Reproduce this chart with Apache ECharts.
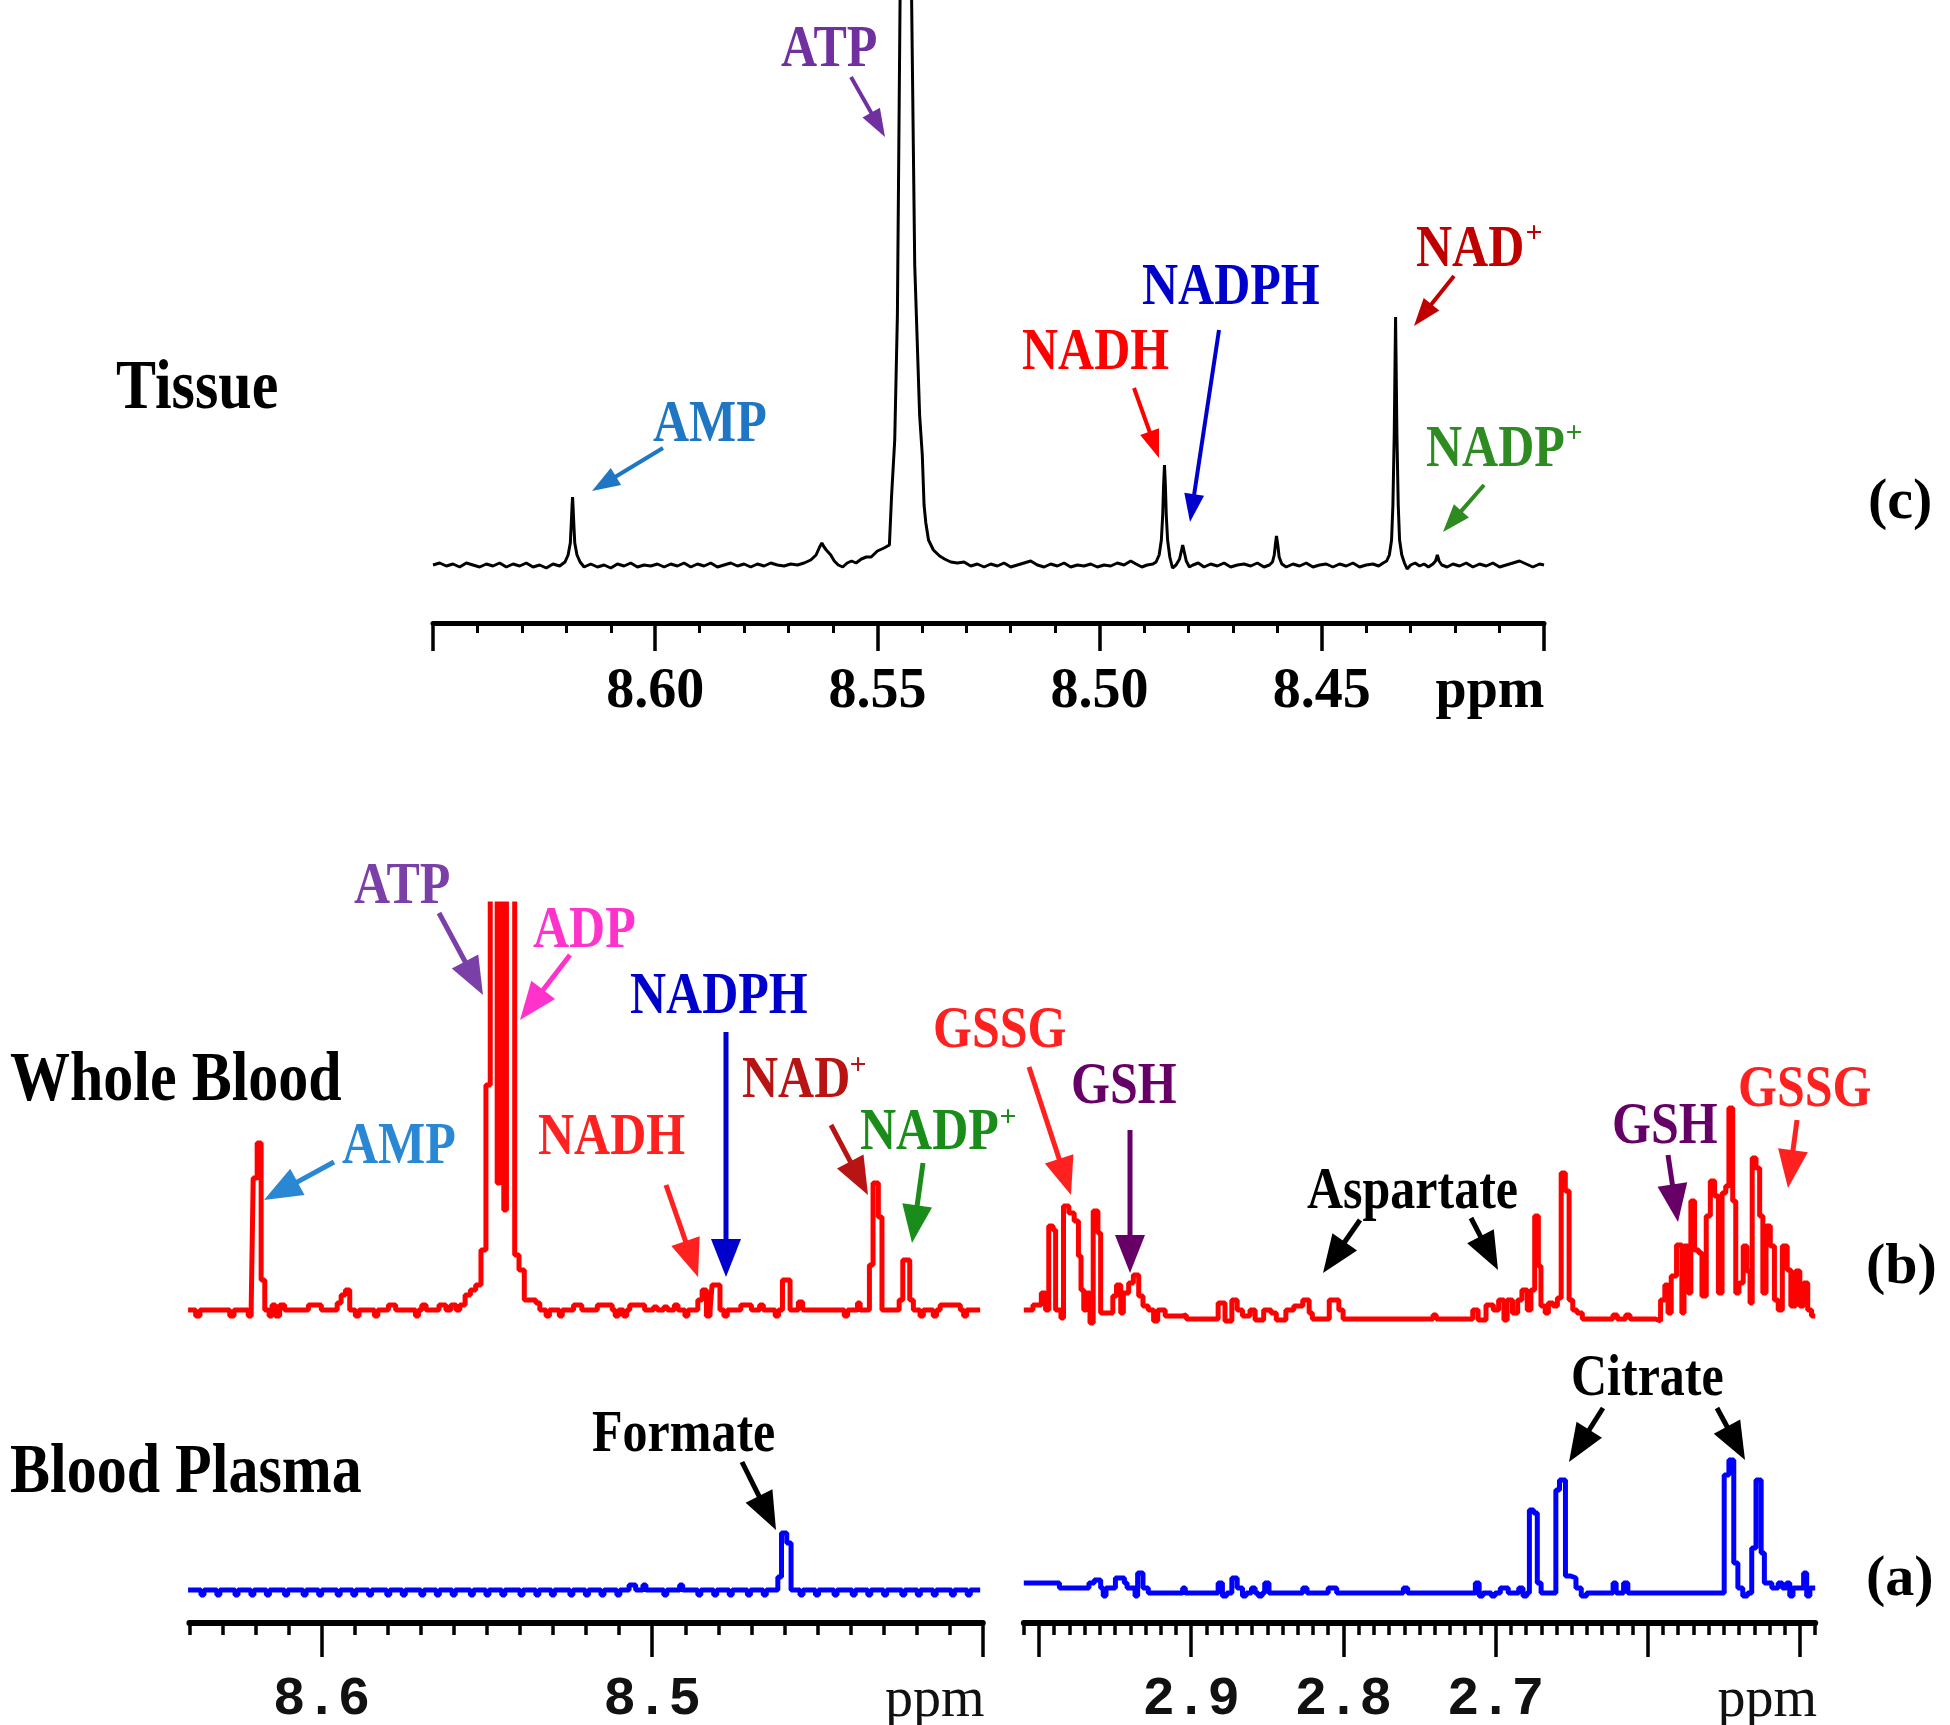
<!DOCTYPE html>
<html><head><meta charset="utf-8">
<script src="https://cdn.jsdelivr.net/npm/echarts@6/dist/echarts.min.js"></script>
<style>html,body{margin:0;padding:0;background:#fff}#c{width:1950px;height:1725px}</style>
</head><body><div id="c"></div>
<script>
// ---------- DATA (ppm, intensity) ----------
const tissueSpectrum = [
[8.6500,0],[8.6485,2],[8.6470,-1],[8.6455,1],[8.6440,-2],[8.6425,2],[8.6410,0],[8.6395,-2],[8.6380,1],[8.6365,-1],[8.6350,2],[8.6335,-2],[8.6320,1],[8.6305,-1],[8.6290,2],[8.6275,-2],[8.6260,0],[8.6245,-3],[8.6230,1],[8.6215,-1],
[8.6203,3],[8.6196,10],[8.6191,22],[8.6189,40],[8.6187,60],[8.6186,68],[8.6185,60],[8.6183,40],[8.6181,22],[8.6176,10],[8.6169,3],[8.6160,-2],
[8.6145,1],[8.6130,-2],[8.6115,0],[8.6100,-3],[8.6085,1],[8.6070,-1],[8.6055,2],[8.6040,-2],[8.6025,0],[8.6010,-1],[8.5995,1],[8.5980,-2],[8.5965,1],[8.5950,-1],[8.5935,2],[8.5920,-2],[8.5905,1],[8.5890,-1],[8.5875,2],[8.5860,-2],[8.5845,0],[8.5830,2],[8.5815,-1],[8.5800,1],[8.5785,-2],[8.5770,1],[8.5755,-1],[8.5740,2],[8.5725,0],[8.5710,-1],[8.5695,1],[8.5680,0],
[8.5665,2],[8.5650,5],[8.5638,10],[8.5630,18],[8.5625,22],[8.5620,18],[8.5615,15],[8.5611,16],[8.5605,10],[8.5597,4],[8.5588,0],[8.5578,-2],[8.5568,2],[8.5558,4],[8.5548,2],[8.5536,6],[8.5525,8],
[8.5514,8],[8.5500,14],[8.5485,17],[8.5473,20],[8.5468,70],[8.5461,125],[8.5455,250],[8.5449,565],[8.5445,850],[8.5441,1340],[8.5436,1800],[8.5431,1340],[8.5427,850],[8.5423,565],[8.5416,300],[8.5405,150],[8.5399,110],[8.5395,60],[8.5391,42],[8.5385,25],[8.5374,15],[8.5360,9],[8.5349,6],[8.5335,3],
[8.5320,2],[8.5305,3],[8.5290,-1],[8.5275,1],[8.5260,-2],[8.5245,1],[8.5230,-1],[8.5215,2],[8.5200,-2],[8.5185,0],[8.5170,2],[8.5155,4],[8.5140,0],[8.5125,-2],[8.5110,1],[8.5095,-1],[8.5080,2],[8.5065,-2],[8.5050,0],[8.5035,-1],[8.5020,1],[8.5005,-2],[8.4990,0],[8.4975,-1],[8.4960,2],[8.4945,0],[8.4930,4],[8.4918,1],[8.4905,-2],[8.4893,0],[8.4880,1],
[8.4873,3],[8.4866,10],[8.4861,25],[8.4858,50],[8.4856,80],[8.4854,100],[8.4852,80],[8.4850,50],[8.4847,25],[8.4842,8],[8.4836,-3],[8.4828,0],
[8.4820,6],[8.4816,14],[8.4813,20],[8.4810,14],[8.4805,4],[8.4798,-2],[8.4790,0],[8.4778,2],[8.4765,-2],[8.4750,1],[8.4735,-1],[8.4720,2],[8.4705,-2],[8.4690,0],[8.4675,1],[8.4660,-1],[8.4645,2],[8.4630,-2],[8.4618,0],
[8.4611,3],[8.4607,10],[8.4604,22],[8.4602,29],[8.4599,20],[8.4596,8],[8.4590,1],[8.4580,-2],[8.4565,1],[8.4550,-1],[8.4535,2],[8.4520,-2],[8.4505,0],[8.4490,1],[8.4475,-2],[8.4460,1],[8.4445,-1],[8.4430,2],[8.4415,-2],[8.4400,0],[8.4385,1],[8.4372,-1],[8.4362,2],
[8.4354,4],[8.4348,10],[8.4343,25],[8.4340,60],[8.4337,130],[8.4335,210],[8.4334,248],[8.4333,210],[8.4331,130],[8.4328,60],[8.4325,25],[8.4320,10],[8.4314,2],[8.4308,-4],[8.4300,0],[8.4290,2],[8.4280,-1],[8.4270,1],[8.4260,-2],[8.4250,1],
[8.4244,4],[8.4240,10],[8.4236,4],[8.4230,0],[8.4218,-2],[8.4205,1],[8.4190,-1],[8.4175,2],[8.4160,-2],[8.4145,1],[8.4130,-1],[8.4115,2],[8.4100,-2],[8.4085,0],[8.4070,2],[8.4055,4],[8.4040,1],[8.4025,-2],[8.4010,1],[8.4000,0]
];

const bloodAromatic = [
[8.6404,0],[8.6381,-6],[8.6368,0],[8.6278,-6],[8.6265,0],[8.6222,-6],[8.6213,5],[8.6207,132],[8.6195,167],[8.6183,30],[8.6172,0],[8.6159,-6],[8.6150,5],[8.6140,-6],[8.6127,5],[8.6112,0],[8.6040,5],[8.6001,0],[8.5953,7],[8.5941,15],[8.5928,20],[8.5915,0],[8.5898,-6],[8.5887,0],[8.5840,-6],[8.5830,0],[8.5798,5],[8.5776,0],[8.5716,-6],[8.5707,0],[8.5697,5],[8.5684,0],[8.5645,5],[8.5624,0],[8.5609,5],[8.5593,0],[8.5582,5],[8.5566,15],[8.5550,20],[8.5534,25],[8.5518,60],[8.5503,225],[8.5490,600],[8.5469,127],[8.5461,600],[8.5449,100],[8.5441,600],[8.5416,55],[8.5403,40],[8.5387,10],[8.5352,7],[8.5340,0],[8.5321,-6],[8.5311,0],[8.5281,-6],[8.5272,0],[8.5238,5],[8.5213,0],[8.5166,5],[8.5121,0],[8.5112,-6],[8.5102,0],[8.5087,-6],[8.5077,0],[8.5068,5],[8.5023,0],[8.4996,3],[8.4985,0],[8.4965,3],[8.4954,0],[8.4933,5],[8.4922,0],[8.4901,-6],[8.4892,0],[8.4862,10],[8.4849,20],[8.4836,-6],[8.4825,0],[8.4819,25],[8.4795,0],[8.4783,-6],[8.4773,0],[8.4732,5],[8.4700,0],[8.4675,5],[8.4664,0],[8.4628,-6],[8.4618,0],[8.4606,30],[8.4583,0],[8.4558,8],[8.4545,0],[8.4419,-6],[8.4409,0],[8.4379,7],[8.4371,0],[8.4343,45],[8.4332,127],[8.4316,93],[8.4305,0],[8.4253,10],[8.4242,50],[8.4221,10],[8.4210,0],[8.4190,-6],[8.4180,0],[8.4150,-6],[8.4140,0],[8.4129,5],[8.4068,0],[8.4058,-6],[8.4049,0],[8.4008,0]
];

const bloodAliphatic = [
[3.0100,9],[3.0040,14],[2.9985,26],[2.9957,9],[2.9936,93],[2.9908,89],[2.9891,9],[2.9856,1],[2.9839,113],[2.9804,106],[2.9769,98],[2.9741,63],[2.9724,29],[2.9706,9],[2.9689,26],[2.9665,-4],[2.9644,108],[2.9613,86],[2.9595,6],[2.9515,23],[2.9491,34],[2.9463,6],[2.9446,26],[2.9411,36],[2.9380,44],[2.9345,23],[2.9317,13],[2.9282,9],[2.9247,-2],[2.9220,9],[2.9171,3],[2.9056,4],[2.9032,0],[2.8823,16],[2.8778,-2],[2.8733,19],[2.8698,9],[2.8663,3],[2.8614,9],[2.8580,-1],[2.8524,9],[2.8475,6],[2.8441,-1],[2.8378,9],[2.8326,13],[2.8267,19],[2.8225,6],[2.8204,0],[2.8093,19],[2.8030,9],[2.8002,0],[2.7411,4],[2.7390,0],[2.7150,9],[2.7115,-1],[2.7063,14],[2.7015,9],[2.6980,19],[2.6945,-1],[2.6924,19],[2.6889,6],[2.6855,19],[2.6827,29],[2.6792,9],[2.6768,29],[2.6743,103],[2.6719,53],[2.6702,13],[2.6674,6],[2.6653,16],[2.6622,13],[2.6594,21],[2.6569,146],[2.6542,128],[2.6517,19],[2.6493,9],[2.6465,6],[2.6430,0],[2.6229,4],[2.6201,0],[2.6145,4],[2.6117,0],[2.5950,-2],[2.5916,19],[2.5888,34],[2.5867,6],[2.5846,43],[2.5811,74],[2.5776,6],[2.5762,73],[2.5735,26],[2.5717,118],[2.5693,69],[2.5665,66],[2.5644,23],[2.5616,103],[2.5589,138],[2.5561,123],[2.5536,26],[2.5512,126],[2.5488,133],[2.5467,211],[2.5442,118],[2.5422,26],[2.5401,36],[2.5373,73],[2.5349,48],[2.5328,16],[2.5314,161],[2.5289,151],[2.5265,103],[2.5244,26],[2.5223,93],[2.5195,73],[2.5168,19],[2.5143,9],[2.5116,73],[2.5084,49],[2.5060,13],[2.5029,48],[2.5001,13],[2.4976,36],[2.4949,9],[2.4924,3],[2.4900,3]
];

const plasmaAromatic = [
[8.6404,0],[8.6365,-5],[8.6356,0],[8.6317,-5],[8.6308,0],[8.6262,-5],[8.6253,0],[8.6214,-5],[8.6205,0],[8.6167,-5],[8.6158,0],[8.6112,-5],[8.6103,0],[8.6056,-5],[8.6047,0],[8.6009,-5],[8.6000,0],[8.5953,-5],[8.5944,0],[8.5906,-5],[8.5897,0],[8.5858,-5],[8.5849,0],[8.5803,-5],[8.5794,0],[8.5756,-5],[8.5747,0],[8.5700,-5],[8.5691,0],[8.5653,-5],[8.5644,0],[8.5605,-5],[8.5596,0],[8.5550,-5],[8.5541,0],[8.5503,-5],[8.5494,0],[8.5455,-5],[8.5446,0],[8.5400,-5],[8.5391,0],[8.5352,-5],[8.5343,0],[8.5305,-5],[8.5296,0],[8.5249,-5],[8.5240,0],[8.5202,-5],[8.5193,0],[8.5155,-5],[8.5146,0],[8.5107,-5],[8.5098,0],[8.5070,5],[8.5050,0],[8.5028,5],[8.5019,0],[8.4965,-5],[8.4956,0],[8.4917,5],[8.4908,0],[8.4862,-5],[8.4853,0],[8.4814,-5],[8.4805,0],[8.4767,-5],[8.4758,0],[8.4712,-5],[8.4703,0],[8.4664,-5],[8.4655,0],
[8.4620,13],[8.4609,57],[8.4593,47],[8.4580,0],
[8.4553,-5],[8.4544,0],[8.4506,-5],[8.4497,0],[8.4450,-5],[8.4441,0],[8.4395,-5],[8.4386,0],[8.4348,-5],[8.4339,0],[8.4300,-5],[8.4291,0],[8.4245,-5],[8.4236,0],[8.4198,-5],[8.4189,0],[8.4150,-5],[8.4141,0],[8.4095,-5],[8.4086,0],[8.4047,-5],[8.4038,0],[8.4008,0]
];

const plasmaAliphatic = [
[3.0100,10],[2.9866,5],[2.9672,10],[2.9637,13],[2.9595,5],[2.9578,-3],[2.9560,5],[2.9498,15],[2.9439,10],[2.9421,5],[2.9369,-3],[2.9352,20],[2.9317,5],[2.9282,0],[2.9056,5],[2.9039,0],[2.8823,10],[2.8795,-3],[2.8767,0],[2.8733,15],[2.8698,5],[2.8663,-3],[2.8639,0],[2.8604,5],[2.8580,0],[2.8559,-3],[2.8534,0],[2.8517,10],[2.8489,0],[2.8267,5],[2.8239,0],[2.8100,5],[2.8044,0],[2.7606,5],[2.7578,0],[2.7133,10],[2.7108,-3],[2.7084,0],[2.7028,-3],[2.7004,0],[2.6969,5],[2.6917,0],[2.6848,5],[2.6820,-3],[2.6795,0],[2.6778,83],[2.6750,80],[2.6726,10],[2.6701,0],[2.6604,103],[2.6580,113],[2.6541,17],[2.6507,15],[2.6472,5],[2.6437,-3],[2.6402,0],[2.6228,10],[2.6208,0],[2.6159,10],[2.6131,0],[2.5498,118],[2.5467,133],[2.5435,30],[2.5408,5],[2.5376,-3],[2.5345,0],[2.5317,45],[2.5289,113],[2.5255,40],[2.5234,10],[2.5185,5],[2.5143,10],[2.5116,5],[2.5088,10],[2.5067,-3],[2.5046,5],[2.4976,20],[2.4956,-3],[2.4935,5],[2.4900,5]
];

// tick values / labels
const tissueTicks = [8.65, 8.60, 8.55, 8.50, 8.45, 8.40];
const tissueTickLabels = ['', '8.60', '8.55', '8.50', '8.45', 'ppm'];
const lowLeftMajor = [8.6, 8.5, 8.4];
const lowLeftLabels = ['8.6', '8.5', 'ppm'];
const lowRightMajor = [3.0, 2.9, 2.8, 2.7, 2.6, 2.5];
const lowRightLabelValues = [2.9, 2.8, 2.7, 2.49];
const lowRightLabels = ['2.9', '2.8', '2.7', 'ppm'];

// annotations (text labels + arrows, pixel positions)
const annotations = [
  {t:'Tissue', x:116, y:390, c:'#000', s:60, sy:1.15},
  {t:'(c)', x:1868, y:503, c:'#000', s:58, sy:1},
  {t:'ATP', x:781, y:50, c:'#7030A0', arrows:[[851,77,885,137]], top:true},
  {t:'AMP', x:653, y:425, c:'#1F77C4', arrows:[[663,448,592,491]], top:true},
  {t:'NADH', x:1022, y:353, c:'#FF0000', arrows:[[1134,388,1159,458]], top:true},
  {t:'NADPH', x:1142, y:288, c:'#0000CC', arrows:[[1219,330,1190,522]], top:true},
  {t:'NAD', x:1416, y:250, c:'#C00000', sup:[1534,234], arrows:[[1454,276,1414,326]], top:true},
  {t:'NADP', x:1426, y:450, c:'#2E8B22', sup:[1574,434], arrows:[[1484,485,1443,532]], top:true},

  {t:'Whole Blood', x:10, y:1082, c:'#000', s:60, sy:1.15},
  {t:'Blood Plasma', x:10, y:1474, c:'#000', s:60, sy:1.15},
  {t:'(b)', x:1866, y:1268, c:'#000', s:58, sy:1},
  {t:'(a)', x:1866, y:1580, c:'#000', s:58, sy:1},
  {t:'ATP', x:354, y:887, c:'#7B3FA8', arrows:[[439,913,483,995]]},
  {t:'ADP', x:533, y:931, c:'#FF33CC', arrows:[[570,955,520,1020]]},
  {t:'AMP', x:342, y:1147, c:'#2A87D4', arrows:[[334,1162,264,1200]]},
  {t:'NADPH', x:630, y:997, c:'#0000CC', arrows:[[726,1032,726,1277]]},
  {t:'NADH', x:538, y:1138, c:'#FF2020', arrows:[[666,1185,698,1277]]},
  {t:'NAD', x:742, y:1081, c:'#B81414', sup:[858,1066], arrows:[[831,1125,868,1195]]},
  {t:'NADP', x:860, y:1133, c:'#1A8C1A', sup:[1008,1118], arrows:[[923,1163,912,1243]]},
  {t:'GSSG', x:933, y:1031, c:'#FF2020', arrows:[[1029,1067,1071,1195]]},
  {t:'GSH', x:1071, y:1087, c:'#660066', arrows:[[1130,1130,1130,1273]]},
  {t:'Aspartate', x:1307, y:1192, c:'#000', arrows:[[1360,1220,1323,1273],[1471,1218,1498,1270]]},
  {t:'GSH', x:1612, y:1127, c:'#660066', arrows:[[1668,1155,1678,1222]]},
  {t:'GSSG', x:1738, y:1090, c:'#FF2020', arrows:[[1797,1120,1788,1188]]},
  {t:'Formate', x:592, y:1435, c:'#000', arrows:[[742,1462,776,1530]]},
  {t:'Citrate', x:1571, y:1379, c:'#000', arrows:[[1603,1408,1569,1462],[1717,1408,1745,1460]]}
];

// ---------- helpers ----------
function tickText(values, labels, v) {
  for (let i = 0; i < values.length; i++) {
    if (Math.abs(values[i] - v) < 1e-6) return labels[i] === 'ppm' ? '{p|ppm}' : labels[i];
  }
  return '';
}
const SERIF = '"Liberation Serif","Times New Roman",serif';

function arrowEls(a, color, top) {
  const [x1, y1, x2, y2] = a;
  const hl = top ? 28 : 38, hw = top ? 20 : 30, lw = top ? 4 : 5;
  const dx = x2 - x1, dy = y2 - y1, L = Math.hypot(dx, dy);
  const ux = dx / L, uy = dy / L;
  const bx = x2 - ux * hl, by = y2 - uy * hl;
  const px = -uy * hw / 2, py = ux * hw / 2;
  return [
    {type:'line', silent:true, z:50, shape:{x1:x1, y1:y1, x2:bx + ux*2, y2:by + uy*2}, style:{stroke:color, lineWidth:lw}},
    {type:'polygon', silent:true, z:50, shape:{points:[[x2, y2],[bx + px, by + py],[bx - px, by - py]]}, style:{fill:color}}
  ];
}

const graphics = [];
annotations.forEach(a => {
  const size = a.s || 50;
  graphics.push({
    type:'text', silent:true, z:60, x:a.x, y:a.y, scaleY: a.sy || 1.2,
    style:{text:a.t, x:0, y:0, fill:a.c, font:'bold ' + size + 'px ' + SERIF,
      textAlign:'left', align:'left', textVerticalAlign:'middle', verticalAlign:'middle'}
  });
  if (a.sup) {
    graphics.push({
      type:'text', silent:true, z:60, x:a.sup[0], y:a.sup[1],
      style:{text:'+', x:0, y:0, fill:a.c, font:'bold 30px ' + SERIF,
        textAlign:'center', align:'center', textVerticalAlign:'middle', verticalAlign:'middle'}
    });
  }
  (a.arrows || []).forEach(ar => arrowEls(ar, a.c, a.top).forEach(e => graphics.push(e)));
});

// ---------- chart ----------
const chart = echarts.init(document.getElementById('c'), null, {renderer:'canvas'});
const hiddenX = (gi, mn, mx) => ({type:'value', gridIndex:gi, min:mn, max:mx, inverse:true, show:false,
  axisLine:{onZero:false}, splitLine:{show:false}});

const monoLabel = {
  margin:50, color:'#111', fontFamily:'"Liberation Mono","Courier New",monospace', fontWeight:'bold', fontSize:54,
  rich:{p:{fontFamily:SERIF, fontWeight:'normal', fontSize:56, color:'#111', padding:[0,96,0,0]}}
};

chart.setOption({
  animation:false,
  backgroundColor:'#fff',
  grid:[
    {left:433, top:0, width:1111, height:623, outerBoundsMode:'none'},
    {left:189.4, top:904, width:793.4, height:426, outerBoundsMode:'none'},
    {left:1023.8, top:904, width:791.4, height:435, outerBoundsMode:'none'},
    {left:189.4, top:1400, width:793.4, height:223, outerBoundsMode:'none'},
    {left:1023.8, top:1400, width:791.4, height:223, outerBoundsMode:'none'}
  ],
  xAxis:[
    {type:'value', gridIndex:0, min:8.40, max:8.65, interval:0.05, inverse:true, position:'bottom',
      axisLine:{onZero:false, lineStyle:{color:'#000', width:5}},
      axisTick:{length:28, lineStyle:{color:'#000', width:3.5}},
      minorTick:{show:true, splitNumber:5, length:10, lineStyle:{color:'#000', width:3}},
      splitLine:{show:false}, minorSplitLine:{show:false},
      axisLabel:{margin:42, color:'#000', fontFamily:SERIF, fontWeight:'bold', fontSize:56,
        showMinLabel:true, showMaxLabel:true,
        formatter:v => tickText(tissueTicks, tissueTickLabels, v),
        rich:{p:{fontFamily:SERIF, fontWeight:'bold', fontSize:56, color:'#000', padding:[0,108,0,0]}}}
    },
    hiddenX(1, 8.40, 8.64),
    hiddenX(2, 2.49, 3.01),
    {type:'value', gridIndex:3, min:8.40, max:8.64, interval:0.01, inverse:true, position:'bottom',
      axisLine:{onZero:false, lineStyle:{color:'#000', width:6}},
      axisTick:{length:12, lineStyle:{color:'#000', width:3.5}},
      axisLabel:{show:false}, splitLine:{show:false}},
    {type:'value', gridIndex:3, min:8.40, max:8.64, inverse:true, position:'bottom',
      axisLine:{show:false, onZero:false},
      axisTick:{length:34, customValues:lowLeftMajor, lineStyle:{color:'#000', width:3.5}},
      axisLabel:Object.assign({customValues:lowLeftMajor, formatter:v => tickText(lowLeftMajor, lowLeftLabels, v)}, monoLabel),
      splitLine:{show:false}},
    {type:'value', gridIndex:4, min:2.49, max:3.01, interval:0.01, inverse:true, position:'bottom',
      axisLine:{onZero:false, lineStyle:{color:'#000', width:6}},
      axisTick:{length:12, lineStyle:{color:'#000', width:3.5}},
      axisLabel:{show:false}, splitLine:{show:false}},
    {type:'value', gridIndex:4, min:2.49, max:3.01, inverse:true, position:'bottom',
      axisLine:{show:false, onZero:false},
      axisTick:{length:34, customValues:lowRightMajor, lineStyle:{color:'#000', width:3.5}},
      axisLabel:Object.assign({customValues:lowRightLabelValues, formatter:v => tickText(lowRightLabelValues, lowRightLabels, v)}, monoLabel),
      splitLine:{show:false}}
  ],
  yAxis:[
    {type:'value', gridIndex:0, min:-58, max:565, show:false},
    {type:'value', gridIndex:1, min:-20, max:406, show:false},
    {type:'value', gridIndex:2, min:-20, max:415, show:false},
    {type:'value', gridIndex:3, min:-33, max:190, show:false},
    {type:'value', gridIndex:4, min:-30, max:193, show:false}
  ],
  series:[
    {name:'Tissue', type:'line', xAxisIndex:0, yAxisIndex:0, data:tissueSpectrum, showSymbol:false, clip:true,
      lineStyle:{color:'#000', width:3}},
    {name:'Whole Blood aromatic', type:'line', step:'end', xAxisIndex:1, yAxisIndex:1, data:bloodAromatic, showSymbol:false, clip:true,
      lineStyle:{color:'#FF0000', width:5}},
    {name:'Whole Blood aliphatic', type:'line', step:'end', xAxisIndex:2, yAxisIndex:2, data:bloodAliphatic, showSymbol:false, clip:true,
      lineStyle:{color:'#FF0000', width:5}},
    {name:'Plasma aromatic', type:'line', step:'end', xAxisIndex:3, yAxisIndex:3, data:plasmaAromatic, showSymbol:false, clip:true,
      lineStyle:{color:'#0000FF', width:5}},
    {name:'Plasma aliphatic', type:'line', step:'end', xAxisIndex:5, yAxisIndex:4, data:plasmaAliphatic, showSymbol:false, clip:true,
      lineStyle:{color:'#0000FF', width:5}}
  ],
  graphic:graphics
});
</script></body></html>
